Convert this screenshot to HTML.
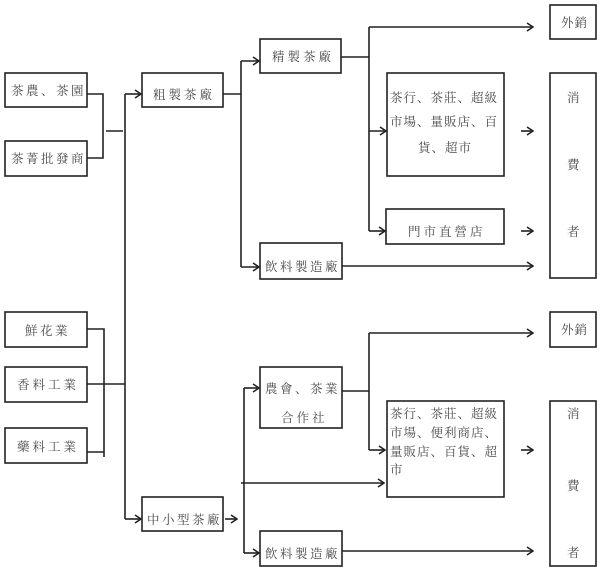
<!DOCTYPE html>
<html><head><meta charset="utf-8"><style>
html,body{margin:0;padding:0;background:#fff;}
svg{display:block;}
text{font-family:"Liberation Serif","Noto Serif CJK SC","Noto Sans CJK TC",serif;font-size:12.5px;fill:#4a4a4a;}
</style></head><body>
<svg width="600" height="571" viewBox="0 0 600 571" xmlns="http://www.w3.org/2000/svg">
<defs>
<marker id="a" markerWidth="8" markerHeight="10" refX="7" refY="5" orient="auto" markerUnits="userSpaceOnUse">
<polyline points="1,1 7,5 1,9" fill="none" stroke="#222" stroke-width="1.6"/>
</marker>
</defs>
<g fill="none" stroke="#222" stroke-width="1.6">
<!-- boxes -->
<rect x="5" y="73" width="82" height="34"/>
<rect x="5" y="141" width="82" height="35"/>
<rect x="142" y="73" width="81" height="34"/>
<rect x="260" y="39" width="81" height="34"/>
<rect x="260" y="243" width="82" height="36"/>
<rect x="387" y="73" width="117" height="103"/>
<rect x="386" y="209" width="118" height="35"/>
<rect x="550" y="5" width="46" height="34"/>
<rect x="550" y="73" width="46" height="205"/>
<rect x="5" y="312" width="82" height="35"/>
<rect x="5" y="367" width="82" height="35"/>
<rect x="5" y="428" width="82" height="35"/>
<rect x="142" y="497" width="81" height="34"/>
<rect x="260" y="367" width="82" height="61"/>
<rect x="387" y="401" width="117" height="96"/>
<rect x="260" y="531" width="82" height="35"/>
<rect x="550" y="312" width="46" height="35"/>
<rect x="550" y="401" width="46" height="165"/>
<!-- top connectors -->
<path d="M87 94 H103 V158 H87"/>
<path d="M106 131 H123"/>
<path d="M125 94 V519"/>
<path d="M125 94 H141" marker-end="url(#a)"/>
<path d="M223 94 H241"/>
<path d="M241 61 V267"/>
<path d="M241 61 H259" marker-end="url(#a)"/>
<path d="M241 267 H259" marker-end="url(#a)"/>
<path d="M341 57 H369"/>
<path d="M369 27 V231"/>
<path d="M369 27 H533" marker-end="url(#a)"/>
<path d="M369 131 H386" marker-end="url(#a)"/>
<path d="M369 231 H385" marker-end="url(#a)"/>
<path d="M521 131 H533" marker-end="url(#a)"/>
<path d="M521 231 H533" marker-end="url(#a)"/>
<path d="M342 266 H533" marker-end="url(#a)"/>
<!-- bottom connectors -->
<path d="M87 329 H104 V457"/>
<path d="M87 452 H104"/>
<path d="M87 384 H125"/>
<path d="M125 519 H141" marker-end="url(#a)"/>
<path d="M225 519 H237" marker-end="url(#a)"/>
<path d="M244 388 V553"/>
<path d="M244 388 H259" marker-end="url(#a)"/>
<path d="M244 553 H259" marker-end="url(#a)"/>
<path d="M241 483 H384" marker-end="url(#a)"/>
<path d="M342 391 H369"/>
<path d="M369 333 V450"/>
<path d="M369 333 H533" marker-end="url(#a)"/>
<path d="M369 450 H385" marker-end="url(#a)"/>
<path d="M521 450 H533" marker-end="url(#a)"/>
<path d="M342 551 H533" marker-end="url(#a)"/>
</g>
<g>
<text x="11" y="95" letter-spacing="2.5">茶農、茶園</text>
<text x="11" y="163" letter-spacing="2.5">茶菁批發商</text>
<text x="153" y="99" letter-spacing="3">粗製茶廠</text>
<text x="272" y="61" letter-spacing="3">精製茶廠</text>
<text x="265" y="271" letter-spacing="2.5">飲料製造廠</text>
<text x="390" y="102" letter-spacing="1">茶行、茶莊、超級</text>
<text x="390" y="126" letter-spacing="1">市場、量販店、百</text>
<text x="418" y="152" letter-spacing="1">貨、超市</text>
<text x="408" y="236" letter-spacing="3">門市直營店</text>
<text x="561" y="27" letter-spacing="1">外銷</text>
<text x="567" y="102">消</text>
<text x="567" y="169">費</text>
<text x="567" y="236">者</text>
<text x="25" y="335" letter-spacing="2.5">鮮花業</text>
<text x="17" y="389" letter-spacing="3">香料工業</text>
<text x="17" y="451" letter-spacing="3">藥料工業</text>
<text x="147" y="524" letter-spacing="2.5">中小型茶廠</text>
<text x="265" y="393" letter-spacing="2.5">農會、茶業</text>
<text x="281" y="422" letter-spacing="3">合作社</text>
<text x="390" y="418" letter-spacing="1">茶行、茶莊、超級</text>
<text x="390" y="437" letter-spacing="1">市場、便利商店、</text>
<text x="390" y="456" letter-spacing="1">量販店、百貨、超</text>
<text x="390" y="474" letter-spacing="1">市</text>
<text x="265" y="558" letter-spacing="2.5">飲料製造廠</text>
<text x="561" y="334" letter-spacing="1">外銷</text>
<text x="567" y="418">消</text>
<text x="567" y="490">費</text>
<text x="567" y="557">者</text>
</g>
</svg>
</body></html>
